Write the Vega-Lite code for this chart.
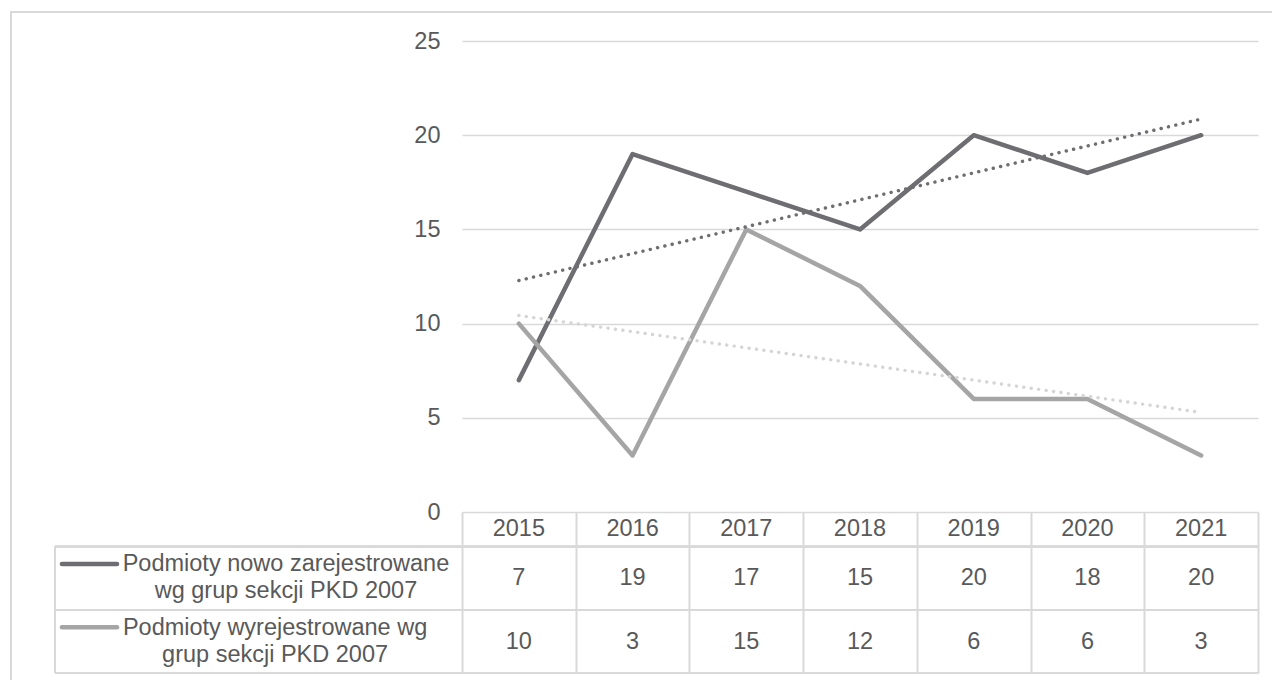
{
  "$schema": "https://vega.github.io/schema/vega-lite/v6.json",
  "width": 796,
  "height": 471,
  "autosize": {"type": "none"},
  "padding": {"left": 462, "top": 41, "right": 14, "bottom": 168},
  "background": "#ffffff",
  "config": {
    "view": {"stroke": null},
    "font": "Liberation Sans",
    "text": {"font": "Liberation Sans", "fontSize": 23.5, "color": "#595959"}
  },
  "datasets": {
    "series": [
      {"year": 2015, "series": "new", "value": 7},
      {"year": 2016, "series": "new", "value": 19},
      {"year": 2017, "series": "new", "value": 17},
      {"year": 2018, "series": "new", "value": 15},
      {"year": 2019, "series": "new", "value": 20},
      {"year": 2020, "series": "new", "value": 18},
      {"year": 2021, "series": "new", "value": 20},
      {"year": 2015, "series": "removed", "value": 10},
      {"year": 2016, "series": "removed", "value": 3},
      {"year": 2017, "series": "removed", "value": 15},
      {"year": 2018, "series": "removed", "value": 12},
      {"year": 2019, "series": "removed", "value": 6},
      {"year": 2020, "series": "removed", "value": 6},
      {"year": 2021, "series": "removed", "value": 3}
    ],
    "labels": [
      {"series": "new", "label": "Podmioty nowo zarejestrowane\nwg grup sekcji PKD 2007"},
      {"series": "removed", "label": "Podmioty wyrejestrowane wg\ngrup sekcji PKD 2007"}
    ]
  },
  "data": {"name": "series"},
  "layer": [
    {
      "mark": {"type": "line", "strokeWidth": 4.5, "strokeCap": "round", "strokeJoin": "round"},
      "encoding": {
        "x": {
          "field": "year",
          "type": "quantitative",
          "title": null,
          "scale": {"domain": [2014.5, 2021.5], "nice": false, "zero": false},
          "axis": {
            "title": null,
            "values": [2014.5, 2015.5, 2016.5, 2017.5, 2018.5, 2019.5, 2020.5, 2021.5],
            "labels": false,
            "domain": false,
            "grid": false,
            "ticks": true,
            "tickSize": 161,
            "tickColor": "#d9d9d9",
            "tickWidth": 2
          }
        },
        "y": {
          "field": "value",
          "type": "quantitative",
          "title": null,
          "scale": {"domain": [0, 25], "nice": false, "zero": false},
          "axis": {
            "title": null,
            "values": [0, 5, 10, 15, 20, 25],
            "domain": false,
            "ticks": false,
            "grid": true,
            "gridColor": "#d9d9d9",
            "gridWidth": 1.5,
            "labelFont": "Liberation Sans",
            "labelFontSize": 23.5,
            "labelColor": "#595959",
            "labelPadding": 22
          }
        },
        "color": {
          "field": "series",
          "type": "nominal",
          "scale": {"domain": ["new", "removed"], "range": ["#6d6d72", "#a5a5a5"]},
          "legend": null
        }
      }
    },
    {
      "mark": {"type": "rect", "filled": false, "stroke": "#d9d9d9", "strokeWidth": 2},
      "encoding": {
        "x": {"datum": 2010.534, "title": null},
        "x2": {"datum": 2023},
        "y": {"datum": 26.539, "title": null},
        "y2": {"datum": -12}
      }
    },
    {
      "mark": {"type": "rule", "stroke": "#d9d9d9", "strokeWidth": 2},
      "encoding": {
        "x": {"datum": 2010.921, "title": null},
        "x2": {"datum": 2021.5},
        "y": {"datum": -1.842, "title": null}
      }
    },
    {
      "mark": {"type": "rule", "stroke": "#d9d9d9", "strokeWidth": 2},
      "encoding": {
        "x": {"datum": 2010.921, "title": null},
        "x2": {"datum": 2021.5},
        "y": {"datum": -5.202, "title": null}
      }
    },
    {
      "mark": {"type": "rule", "stroke": "#d9d9d9", "strokeWidth": 2},
      "encoding": {
        "x": {"datum": 2010.921, "title": null},
        "x2": {"datum": 2021.5},
        "y": {"datum": -8.546, "title": null}
      }
    },
    {
      "mark": {"type": "rule", "stroke": "#d9d9d9", "strokeWidth": 2},
      "encoding": {
        "x": {"datum": 2010.921, "title": null},
        "y": {"datum": -1.842, "title": null},
        "y2": {"datum": -8.546}
      }
    },
    {
      "transform": [
        {"filter": "datum.series === 'new'"},
        {"regression": "value", "on": "year", "method": "linear"}
      ],
      "mark": {"type": "line", "stroke": "#6d6d72", "strokeWidth": 3.4, "strokeCap": "round", "strokeDash": [0.1, 7.4]},
      "encoding": {
        "x": {"field": "year", "type": "quantitative", "title": null},
        "y": {"field": "value", "type": "quantitative", "title": null}
      }
    },
    {
      "transform": [
        {"filter": "datum.series === 'removed'"},
        {"regression": "value", "on": "year", "method": "linear"}
      ],
      "mark": {"type": "line", "stroke": "#d5d5d5", "strokeWidth": 3.4, "strokeCap": "round", "strokeDash": [0.1, 7.4]},
      "encoding": {
        "x": {"field": "year", "type": "quantitative", "title": null},
        "y": {"field": "value", "type": "quantitative", "title": null}
      }
    },
    {
      "transform": [{"filter": "datum.series === 'new'"}],
      "mark": {"type": "text", "baseline": "middle", "align": "center"},
      "encoding": {
        "x": {"field": "year", "type": "quantitative", "title": null},
        "y": {"datum": -0.924, "title": null},
        "text": {"field": "year", "type": "nominal"}
      }
    },
    {
      "transform": [{"filter": "datum.series === 'new'"}],
      "mark": {"type": "text", "baseline": "middle", "align": "center"},
      "encoding": {
        "x": {"field": "year", "type": "quantitative", "title": null},
        "y": {"datum": -3.519, "title": null},
        "text": {"field": "value", "type": "nominal"}
      }
    },
    {
      "transform": [{"filter": "datum.series === 'removed'"}],
      "mark": {"type": "text", "baseline": "middle", "align": "center"},
      "encoding": {
        "x": {"field": "year", "type": "quantitative", "title": null},
        "y": {"datum": -6.874, "title": null},
        "text": {"field": "value", "type": "nominal"}
      }
    },
    {
      "data": {"name": "labels"},
      "transform": [{"filter": "datum.series === 'new'"}],
      "layer": [
        {
          "mark": {"type": "rule", "stroke": "#6d6d72", "strokeWidth": 4.5, "strokeCap": "round"},
          "encoding": {
            "x": {"datum": 2010.982, "title": null},
            "x2": {"datum": 2011.466},
            "y": {"datum": -2.76, "title": null}
          }
        },
        {
          "mark": {"type": "text", "baseline": "middle", "align": "center", "lineBreak": "\n", "lineHeight": 27},
          "encoding": {
            "x": {"datum": 2012.952, "title": null},
            "y": {"datum": -2.76, "title": null},
            "text": {"field": "label", "type": "nominal"}
          }
        }
      ]
    },
    {
      "data": {"name": "labels"},
      "transform": [{"filter": "datum.series === 'removed'"}],
      "layer": [
        {
          "mark": {"type": "rule", "stroke": "#a5a5a5", "strokeWidth": 4.5, "strokeCap": "round"},
          "encoding": {
            "x": {"datum": 2010.982, "title": null},
            "x2": {"datum": 2011.466},
            "y": {"datum": -6.12, "title": null}
          }
        },
        {
          "mark": {"type": "text", "baseline": "middle", "align": "center", "lineBreak": "\n", "lineHeight": 27},
          "encoding": {
            "x": {"datum": 2012.856, "title": null},
            "y": {"datum": -6.14, "title": null},
            "text": {"field": "label", "type": "nominal"}
          }
        }
      ]
    }
  ]
}
